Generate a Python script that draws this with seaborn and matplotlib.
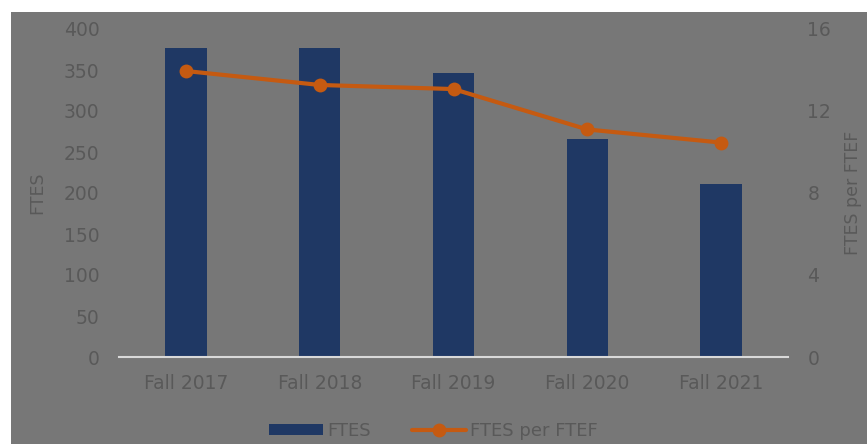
import matplotlib
matplotlib.use("Agg")
import matplotlib.pyplot as plt
from matplotlib.patches import Rectangle
from matplotlib.lines import Line2D
import seaborn as sns
import pandas as pd

# --- data ---
terms = ["Fall 2017", "Fall 2018", "Fall 2019", "Fall 2020", "Fall 2021"]
ftes = [377, 377, 346, 266, 211]
ftes_per_ftef = [13.95, 13.27, 13.07, 11.1, 10.46]

bg = "#777777"
txt = "#595959"
navy = "#1F3864"
orange = "#C55A11"

sns.set_theme(style="white")
plt.rcParams["font.family"] = ["DejaVu Sans"]

df = pd.DataFrame({"term": terms, "ftes": ftes, "ratio": ftes_per_ftef})

fig = plt.figure(figsize=(8.67, 4.44), dpi=100)
fig.patch.set_facecolor("white")
# grey chart area, white strip on top and left like the original export
fig.patches.append(Rectangle((11 / 867, 0), 1, (444 - 12) / 444,
                             transform=fig.transFigure, facecolor=bg,
                             edgecolor="none", zorder=-10))

ax = fig.add_axes([119 / 867, (444 - 357) / 444, (788 - 119) / 867, (357 - 29) / 444])
ax.set_facecolor("none")
sns.barplot(data=df, x="term", y="ftes", color=navy, width=0.31,
            saturation=1, linewidth=0, ax=ax)
ax.set_ylim(0, 400)
ax.set_yticks(range(0, 401, 50))
ax.set_xlim(-0.5, 4.5)
ax.set_xlabel("")
ax.set_ylabel("FTES", fontsize=12.5, color=txt, labelpad=13)
ax.tick_params(axis="both", length=0, labelsize=13.5, colors=txt)
ax.tick_params(axis="y", pad=14)
ax.tick_params(axis="x", pad=12)
for s in ["top", "right", "left"]:
    ax.spines[s].set_visible(False)
ax.spines["bottom"].set_color("#D9D9D9")
ax.spines["bottom"].set_linewidth(1.5)

ax2 = ax.twinx()
sns.lineplot(x=list(range(len(terms))), y=ftes_per_ftef, color=orange,
             linewidth=3, marker="o", markersize=10, markeredgewidth=0, ax=ax2)
ax2.set_ylim(0, 16)
ax2.set_yticks([0, 4, 8, 12, 16])
ax2.set_ylabel("FTES per FTEF", fontsize=12.5, color=txt, labelpad=9)
ax2.tick_params(axis="y", length=0, labelsize=13.5, colors=txt, pad=14)
for s in ax2.spines.values():
    s.set_visible(False)
ax2.grid(False)
ax.grid(False)

handles = [Rectangle((0, 0), 1, 1, facecolor=navy, edgecolor="none"),
           Line2D([], [], color=orange, linewidth=3, marker="o", markersize=10,
                  markeredgewidth=0)]
fig.legend(handles, ["FTES", "FTES per FTEF"], loc="center",
           bbox_to_anchor=(0.5, 0.03), ncol=2, frameon=False, fontsize=13,
           labelcolor=txt, handlelength=3, handleheight=0.6,
           handletextpad=0.2, columnspacing=2.3)

fig.savefig("out.png", dpi=100)
